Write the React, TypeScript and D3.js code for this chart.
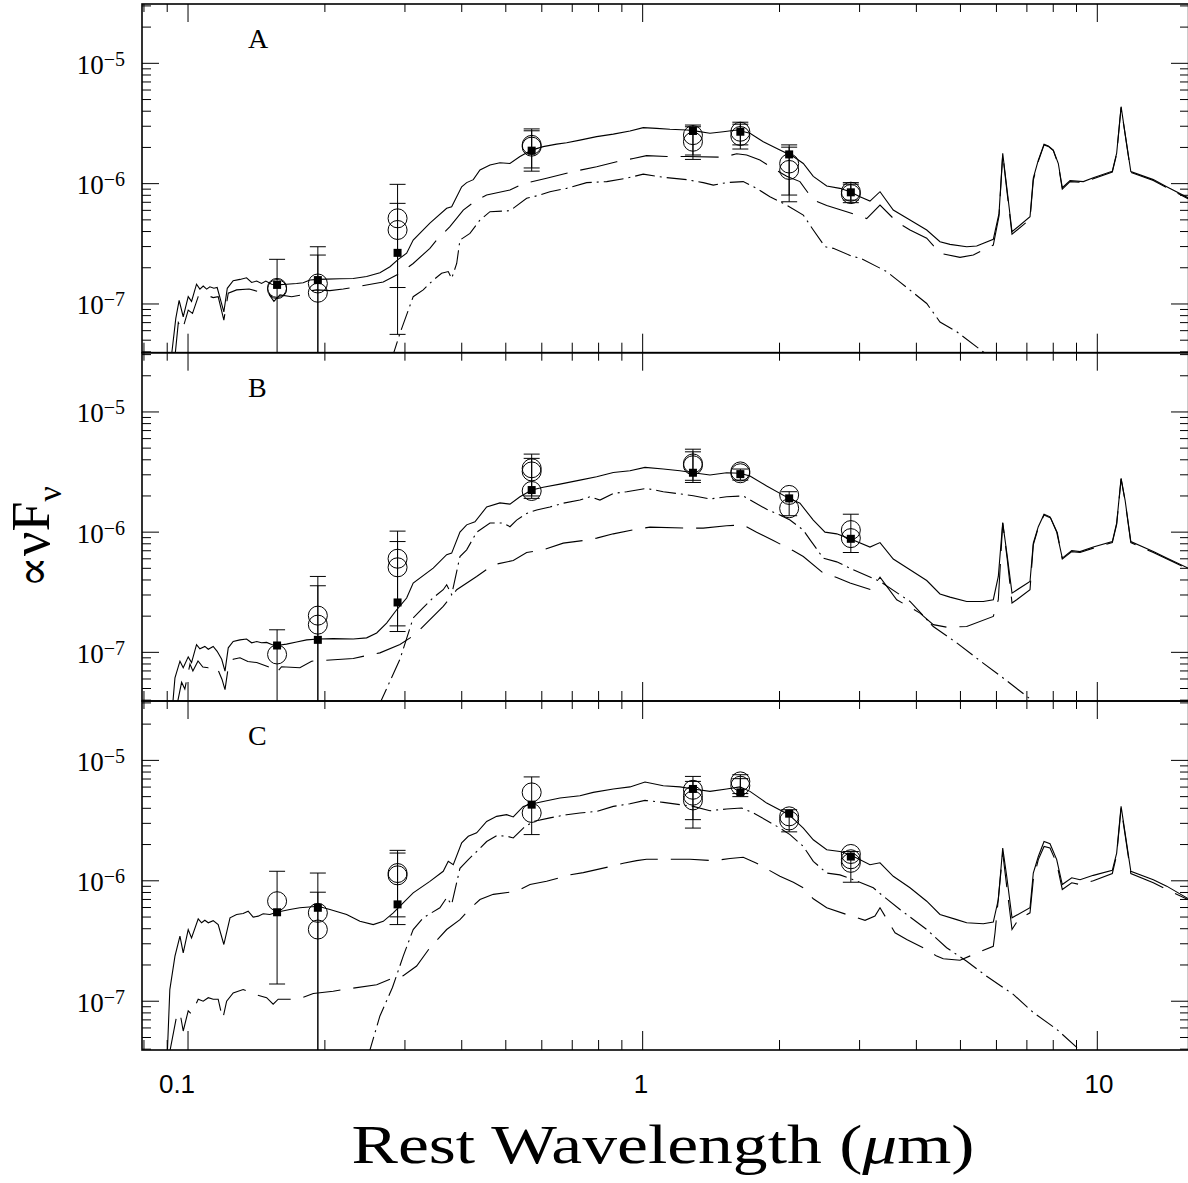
import React from "react";
import * as d3 from "d3";

type P = [number, number];

// ---------- data ----------
const bandLambda = [0.157, 0.193, 0.289, 0.57, 1.29, 1.64, 2.1, 2.87];
const panelLabels = ["A", "B", "C"];
const xMajorTicks = [0.1, 1, 10];
const xTickLabels = ["0.1", "1", "10"];
const xMinorTicks = [0.08, 0.09, 0.2, 0.3, 0.4, 0.5, 0.6, 0.7, 0.8, 0.9, 2, 3, 4, 5, 6, 7, 8, 9];
const yMajorTicks = [1e-7, 1e-6, 1e-5];
const yMajorExp = ["−7", "−6", "−5"];

// Panel A
const A_total: P[] = [[0.0918,3.5e-8],[0.0940,7.59e-8],[0.0956,1.07e-7],[0.0976,7.83e-8],[0.1001,1.15e-7],[0.1018,1.05e-7],[0.1044,1.46e-7],[0.1062,1.33e-7],[0.1080,1.41e-7],[0.1099,1.33e-7],[0.1117,1.39e-7],[0.1140,1.35e-7],[0.1159,1.37e-7],[0.1199,8.6e-8],[0.1220,1.35e-7],[0.1257,1.56e-7],[0.1301,1.60e-7],[0.1345,1.65e-7],[0.1380,1.51e-7],[0.1416,1.55e-7],[0.1451,1.48e-7],[0.1483,1.55e-7],[0.1527,1.46e-7],[0.1571,1.44e-7],[0.1647,1.46e-7],[0.1733,1.48e-7],[0.1792,1.50e-7],[0.1854,1.58e-7],[0.1934,1.60e-7],[0.2018,1.61e-7],[0.2158,1.62e-7],[0.2309,1.63e-7],[0.2471,1.69e-7],[0.2643,1.82e-7],[0.2781,2.04e-7],[0.2900,2.35e-7],[0.3026,2.64e-7],[0.3128,3.40e-7],[0.3404,4.70e-7],[0.3706,6.24e-7],[0.3801,6.43e-7],[0.3999,9.42e-7],[0.4101,1.02e-6],[0.4241,1.08e-6],[0.4387,1.30e-6],[0.4615,1.43e-6],[0.4854,1.49e-6],[0.5106,1.47e-6],[0.5372,1.68e-6],[0.5700,1.90e-6],[0.6042,2.03e-6],[0.6468,2.13e-6],[0.6804,2.19e-6],[0.7278,2.30e-6],[0.7921,2.46e-6],[0.8618,2.58e-6],[0.9377,2.74e-6],[1.003,2.92e-6],[1.073,2.88e-6],[1.148,2.83e-6],[1.250,2.79e-6],[1.292,2.76e-6],[1.406,2.62e-6],[1.504,2.70e-6],[1.610,2.79e-6],[1.722,2.62e-6],[1.842,2.23e-6],[2.004,1.90e-6],[2.145,1.68e-6],[2.256,1.47e-6],[2.373,1.15e-6],[2.540,9.56e-7],[2.716,9.14e-7],[2.858,8.57e-7],[3.006,7.79e-7],[3.162,7.17e-7],[3.327,8.57e-7],[3.558,6.03e-7],[3.873,4.99e-7],[4.215,4.12e-7],[4.508,3.29e-7],[4.742,3.13e-7],[5.161,2.99e-7],[5.429,3.03e-7],[5.905,3.45e-7],[6.079,5.66e-7],[6.194,1.79e-6],[6.320,9.42e-7],[6.492,3.98e-7],[7.112,5.31e-7],[7.231,1.11e-6],[7.417,1.57e-6],[7.636,2.13e-6],[7.802,2.06e-6],[8.002,1.90e-6],[8.208,1.47e-6],[8.375,9.25e-7],[8.710,1.06e-6],[9.316,1.04e-6],[9.800,1.12e-6],[10.79,1.27e-6],[11.03,1.79e-6],[11.28,4.36e-6],[11.51,2.62e-6],[11.85,1.26e-6],[13.28,1.08e-6],[14.21,9.42e-7],[15.83,7.64e-7]];
const A_young: P[] = [[0.0935,3.5e-8],[0.0952,7.0e-8],[0.0972,6.07e-8],[0.1001,8.9e-8],[0.1023,8.35e-8],[0.1053,1.15e-7],[0.1080,1.12e-7],[0.1108,1.17e-7],[0.1136,1.13e-7],[0.1165,1.15e-7],[0.1199,7.35e-8],[0.1226,1.23e-7],[0.1279,1.31e-7],[0.1363,1.33e-7],[0.1427,1.27e-7],[0.1463,1.29e-7],[0.1501,1.23e-7],[0.1545,1.05e-7],[0.1593,1.19e-7],[0.1690,1.15e-7],[0.1777,1.19e-7],[0.1824,1.27e-7],[0.1918,1.31e-7],[0.2052,1.29e-7],[0.2195,1.33e-7],[0.2688,1.52e-7],[0.2925,1.80e-7],[0.3128,2.17e-7],[0.3404,2.90e-7],[0.3523,3.40e-7],[0.3768,4.39e-7],[0.4031,6.03e-7],[0.4314,7.31e-7],[0.4538,8.04e-7],[0.5106,8.85e-7],[0.5463,1.00e-6],[0.6147,1.11e-6],[0.7036,1.26e-6],[0.7921,1.38e-6],[0.8766,1.52e-6],[0.9535,1.62e-6],[1.020,1.71e-6],[1.129,1.68e-6],[1.250,1.68e-6],[1.504,1.66e-6],[1.610,1.77e-6],[1.693,1.73e-6],[1.811,1.57e-6],[1.938,1.34e-6],[2.074,1.15e-6],[2.218,1.04e-6],[2.373,7.31e-7],[2.540,6.58e-7],[2.810,5.85e-7],[3.110,5.13e-7],[3.327,6.63e-7],[3.621,4.82e-7],[3.873,4.12e-7],[4.215,3.52e-7],[4.508,2.64e-7],[4.989,2.44e-7],[5.336,2.55e-7],[5.905,3.09e-7],[6.079,5.4e-7],[6.194,1.75e-6],[6.320,9.0e-7],[6.492,3.8e-7],[7.112,5.05e-7],[7.231,1.07e-6],[7.417,1.53e-6],[7.636,2.10e-6],[7.802,2.04e-6],[8.002,1.88e-6],[8.208,1.44e-6],[8.375,9.0e-7],[8.710,1.04e-6],[9.316,1.02e-6],[9.800,1.10e-6],[10.79,1.25e-6],[11.03,1.76e-6],[11.28,4.3e-6],[11.51,2.58e-6],[11.85,1.24e-6],[13.28,1.06e-6],[14.21,9.25e-7],[15.83,7.5e-7]];
const A_old: P[] = [[0.2800,3.4e-8],[0.2925,5.7e-8],[0.3128,1.15e-7],[0.3291,1.31e-7],[0.3462,1.58e-7],[0.3612,1.80e-7],[0.3736,1.86e-7],[0.3801,1.63e-7],[0.3899,2.17e-7],[0.3964,3.40e-7],[0.4170,3.86e-7],[0.4387,4.99e-7],[0.4615,5.85e-7],[0.5106,5.96e-7],[0.5557,7.55e-7],[0.5941,8.04e-7],[0.6252,8.57e-7],[0.6804,9.14e-7],[0.7531,1.02e-6],[0.8334,1.04e-6],[0.9222,1.11e-6],[1.003,1.20e-6],[1.110,1.13e-6],[1.250,1.08e-6],[1.359,1.02e-6],[1.430,9.73e-7],[1.530,1.02e-6],[1.664,1.04e-6],[1.781,9.14e-7],[1.905,7.79e-7],[2.074,6.63e-7],[2.256,5.48e-7],[2.373,4.12e-7],[2.518,2.99e-7],[2.626,2.90e-7],[2.906,2.47e-7],[3.006,2.41e-7],[3.441,1.86e-7],[3.681,1.52e-7],[4.215,1.01e-7],[4.508,7.08e-8],[4.906,5.88e-8],[5.614,4.0e-8],[5.808,3.63e-8]];
const A_square = [1.44e-7, 1.58e-7, 2.66e-7, 1.88e-6, 2.74e-6, 2.70e-6, 1.75e-6, 8.47e-7];
const A_circles = [[1.36e-7, 1.33e-7], [1.48e-7, 1.24e-7], [5.15e-7, 4.12e-7], [2.10e-6, 2.03e-6], [2.53e-6, 2.23e-6], [2.70e-6, 2.49e-6], [1.47e-6, 1.30e-6], [8.57e-7, 8.19e-7]];
const A_errors = [[[1e-8, 2.35e-7]], [[1e-8, 2.99e-7], [1e-8, 2.55e-7]], [[5.59e-8, 9.87e-7], [1.37e-7, 6.86e-7]], [[1.27e-6, 2.85e-6], [1.35e-6, 2.75e-6]], [[1.59e-6, 3.07e-6], [1.73e-6, 2.97e-6]], [[1.94e-6, 3.24e-6], [2.10e-6, 3.12e-6]], [[7.07e-7, 2.10e-6], [8.04e-7, 2.01e-6]], [[6.95e-7, 1.02e-6], [7.3e-7, 9.9e-7]]];

// Panel B
const B_total: P[] = [[0.0926,3.8e-8],[0.0936,6.14e-8],[0.0960,8.44e-8],[0.0976,7.44e-8],[0.1001,9.17e-8],[0.1018,8.22e-8],[0.1044,1.16e-7],[0.1062,1.07e-7],[0.1089,1.12e-7],[0.1108,1.06e-7],[0.1136,1.12e-7],[0.1159,1.02e-7],[0.1186,8.75e-8],[0.1206,6.97e-8],[0.1226,1.09e-7],[0.1257,1.23e-7],[0.1301,1.27e-7],[0.1345,1.29e-7],[0.1380,1.20e-7],[0.1416,1.23e-7],[0.1451,1.20e-7],[0.1489,1.21e-7],[0.1527,1.16e-7],[0.1566,1.14e-7],[0.1647,1.17e-7],[0.1733,1.22e-7],[0.1824,1.27e-7],[0.1934,1.29e-7],[0.2086,1.30e-7],[0.2309,1.29e-7],[0.2471,1.32e-7],[0.2600,1.45e-7],[0.2734,1.75e-7],[0.2877,2.26e-7],[0.3026,2.83e-7],[0.3128,3.77e-7],[0.3462,5.02e-7],[0.3706,6.49e-7],[0.3801,6.69e-7],[0.3964,1.00e-6],[0.4101,1.15e-6],[0.4277,1.22e-6],[0.4538,1.62e-6],[0.4854,1.75e-6],[0.5106,1.71e-6],[0.5372,1.97e-6],[0.5700,2.24e-6],[0.6042,2.36e-6],[0.6578,2.51e-6],[0.7278,2.71e-6],[0.7921,2.89e-6],[0.8618,3.14e-6],[0.9377,3.24e-6],[1.012,3.46e-6],[1.110,3.35e-6],[1.208,3.24e-6],[1.292,3.12e-6],[1.406,2.99e-6],[1.530,3.12e-6],[1.637,3.09e-6],[1.722,2.93e-6],[1.874,2.42e-6],[2.098,1.91e-6],[2.218,1.74e-6],[2.373,1.26e-6],[2.518,1.00e-6],[2.672,9.68e-7],[2.868,8.75e-7],[3.162,7.51e-7],[3.327,8.19e-7],[3.558,5.97e-7],[3.873,4.86e-7],[4.215,3.96e-7],[4.508,3.06e-7],[4.742,2.88e-7],[5.161,2.65e-7],[5.614,2.65e-7],[5.905,2.74e-7],[6.057,4.28e-7],[6.194,1.20e-6],[6.339,6.27e-7],[6.492,3.11e-7],[7.112,3.89e-7],[7.231,8.10e-7],[7.417,1.11e-6],[7.636,1.41e-6],[7.870,1.34e-6],[8.141,1.00e-6],[8.375,6.08e-7],[8.785,7.03e-7],[9.162,6.89e-7],[9.800,7.51e-7],[10.79,8.35e-7],[11.03,1.19e-6],[11.28,2.80e-6],[11.51,1.85e-6],[11.85,8.35e-7],[13.28,6.89e-7],[14.21,6.1e-7],[15.83,5.02e-7]];
const B_young: P[] = [[0.0945,3.6e-8],[0.0968,5.63e-8],[0.0984,4.95e-8],[0.1010,7.99e-8],[0.1025,6.99e-8],[0.1052,8.47e-8],[0.1078,7.55e-8],[0.1108,7.44e-8],[0.1135,7.77e-8],[0.1163,7.20e-8],[0.1188,5.95e-8],[0.1206,4.90e-8],[0.1226,7.48e-8],[0.1257,8.75e-8],[0.1301,9.0e-8],[0.1354,8.39e-8],[0.1416,8.22e-8],[0.1501,7.59e-8],[0.1566,6.76e-8],[0.1606,7.59e-8],[0.1762,7.44e-8],[0.1870,8.44e-8],[0.2309,8.88e-8],[0.2471,9.40e-8],[0.2643,9.9e-8],[0.2925,1.16e-7],[0.3155,1.40e-7],[0.3642,2.41e-7],[0.3899,3.32e-7],[0.4314,4.28e-7],[0.4693,5.35e-7],[0.5193,5.81e-7],[0.5557,6.77e-7],[0.6042,7.12e-7],[0.6688,8.10e-7],[0.7403,8.51e-7],[0.7921,8.92e-7],[0.8618,9.68e-7],[0.9700,1.06e-6],[1.038,1.10e-6],[1.271,1.08e-6],[1.359,1.08e-6],[1.530,1.13e-6],[1.664,1.15e-6],[1.781,1.00e-6],[1.938,8.51e-7],[2.145,6.99e-7],[2.256,6.27e-7],[2.496,4.56e-7],[2.672,4.20e-7],[2.858,3.77e-7],[3.178,3.32e-7],[3.327,4.22e-7],[3.621,2.74e-7],[4.074,2.12e-7],[4.357,1.70e-7],[4.663,1.62e-7],[5.161,1.64e-7],[5.905,1.99e-7],[6.057,2.74e-7],[6.194,1.19e-6],[6.339,5.90e-7],[6.492,2.57e-7],[6.648,2.74e-7],[7.112,3.32e-7],[7.231,7.84e-7],[7.417,1.09e-6],[7.636,1.39e-6],[7.897,1.31e-6],[8.166,9.90e-7],[8.375,5.97e-7],[8.785,6.89e-7],[9.162,6.77e-7],[9.800,7.36e-7],[10.79,8.19e-7],[11.03,1.16e-6],[11.28,2.77e-6],[11.51,1.82e-6],[11.85,8.19e-7],[13.28,6.77e-7],[15.83,4.93e-7]];
const B_old: P[] = [[0.2620,3.5e-8],[0.2925,8.75e-8],[0.3128,1.93e-7],[0.3291,2.35e-7],[0.3462,2.85e-7],[0.3642,3.32e-7],[0.3706,3.65e-7],[0.3801,3.02e-7],[0.3964,6.27e-7],[0.4101,7.12e-7],[0.4314,1.00e-6],[0.4615,1.19e-6],[0.4937,1.19e-6],[0.5106,1.11e-6],[0.5282,1.26e-6],[0.5557,1.43e-6],[0.5847,1.53e-6],[0.6252,1.62e-6],[0.6688,1.74e-6],[0.7278,1.85e-6],[0.7659,1.97e-6],[0.8055,1.85e-6],[0.8618,2.10e-6],[0.9222,2.17e-6],[1.020,2.31e-6],[1.110,2.17e-6],[1.208,2.08e-6],[1.292,2.01e-6],[1.406,1.89e-6],[1.530,1.97e-6],[1.664,2.00e-6],[1.751,1.79e-6],[1.874,1.55e-6],[2.004,1.39e-6],[2.109,1.26e-6],[2.256,1.04e-6],[2.333,8.67e-7],[2.496,6.08e-7],[2.672,5.66e-7],[2.906,4.86e-7],[3.327,3.89e-7],[3.873,2.65e-7],[4.357,1.64e-7],[4.906,1.20e-7],[5.521,8.51e-8],[6.320,5.81e-8],[7.112,4.10e-8],[7.33,3.6e-8]];
const B_square = [1.14e-7, 1.27e-7, 2.60e-7, 2.24e-6, 3.12e-6, 3.04e-6, 1.91e-6, 8.8e-7];
const B_circles = [[9.6e-8], [2.02e-7, 1.70e-7], [6.01e-7, 5.1e-7], [3.4e-6, 3.2e-6, 2.2e-6], [3.73e-6, 3.6e-6], [3.2e-6, 3.09e-6], [2.04e-6, 1.58e-6], [1.04e-6, 8.92e-7]];
const B_errors = [[[1e-8, 1.54e-7]], [[1e-8, 4.28e-7], [1e-8, 3.58e-7]], [[1.49e-7, 1.02e-6], [1.66e-7, 8.35e-7]], [[1.91e-6, 4.46e-6], [2.0e-6, 4.11e-6]], [[2.59e-6, 4.90e-6], [2.7e-6, 4.66e-6]], [[2.71e-6, 3.35e-6]], [[1.37e-6, 2.17e-6]], [[6.77e-7, 1.41e-6]]];

// Panel C
const C_total: P[] = [[0.0900,3.5e-8],[0.0912,1.25e-7],[0.0936,2.37e-7],[0.0960,3.47e-7],[0.0976,2.52e-7],[0.1001,3.94e-7],[0.1018,3.36e-7],[0.1053,4.83e-7],[0.1071,4.48e-7],[0.1089,4.70e-7],[0.1108,4.48e-7],[0.1136,4.67e-7],[0.1165,4.33e-7],[0.1199,2.96e-7],[0.1237,4.93e-7],[0.1279,5.25e-7],[0.1322,5.35e-7],[0.1356,5.59e-7],[0.1391,4.99e-7],[0.1427,5.09e-7],[0.1463,5.32e-7],[0.1514,5.25e-7],[0.1566,5.48e-7],[0.1675,5.78e-7],[0.1762,5.97e-7],[0.1934,6.15e-7],[0.2052,5.78e-7],[0.2233,5.25e-7],[0.2388,4.61e-7],[0.2555,4.33e-7],[0.2688,4.61e-7],[0.2828,5.42e-7],[0.2925,6.15e-7],[0.3128,7.95e-7],[0.3404,9.9e-7],[0.3642,1.20e-6],[0.3736,1.45e-6],[0.3832,1.36e-6],[0.3999,2.07e-6],[0.4135,2.34e-6],[0.4314,2.50e-6],[0.4538,3.11e-6],[0.4773,3.43e-6],[0.5021,3.54e-6],[0.5193,3.39e-6],[0.5463,4.15e-6],[0.5700,4.34e-6],[0.6042,4.56e-6],[0.6578,4.87e-6],[0.7278,5.09e-6],[0.7785,5.42e-6],[0.8618,5.79e-6],[0.9377,6.02e-6],[1.012,6.61e-6],[1.110,6.16e-6],[1.208,6.02e-6],[1.292,5.79e-6],[1.406,5.53e-6],[1.530,5.79e-6],[1.637,6.02e-6],[1.722,5.53e-6],[1.874,4.42e-6],[2.098,3.54e-6],[2.256,2.74e-6],[2.373,2.19e-6],[2.540,1.81e-6],[2.716,1.75e-6],[2.868,1.64e-6],[3.162,1.36e-6],[3.327,1.41e-6],[3.558,1.09e-6],[3.873,8.75e-7],[4.215,6.77e-7],[4.508,5.25e-7],[4.906,4.76e-7],[5.161,4.48e-7],[5.614,4.40e-7],[5.905,4.54e-7],[6.057,6.99e-7],[6.194,1.87e-6],[6.320,1.09e-6],[6.492,4.93e-7],[7.112,5.97e-7],[7.231,1.16e-6],[7.417,1.59e-6],[7.636,2.12e-6],[7.870,2.03e-6],[8.141,1.50e-6],[8.375,9.31e-7],[8.785,1.06e-6],[9.162,1.02e-6],[9.800,1.11e-6],[10.79,1.22e-6],[11.03,1.70e-6],[11.28,4.15e-6],[11.51,2.50e-6],[11.85,1.20e-6],[13.28,1.02e-6],[14.21,9.03e-7],[15.83,7.12e-7]];
const C_young: P[] = [[0.0908,3.5e-8],[0.0944,7.55e-8],[0.0960,8.06e-8],[0.0976,5.66e-8],[0.1001,8.33e-8],[0.1018,7.80e-8],[0.1053,1.04e-7],[0.1080,1.00e-7],[0.1108,1.07e-7],[0.1136,1.04e-7],[0.1165,1.04e-7],[0.1192,7.09e-8],[0.1216,1.00e-7],[0.1257,1.17e-7],[0.1322,1.25e-7],[0.1404,1.14e-7],[0.1489,1.07e-7],[0.1539,9.44e-8],[0.1579,1.04e-7],[0.1747,1.04e-7],[0.1886,1.16e-7],[0.2086,1.21e-7],[0.2195,1.25e-7],[0.2600,1.37e-7],[0.2828,1.56e-7],[0.2974,1.63e-7],[0.3183,1.96e-7],[0.3404,2.78e-7],[0.3706,3.94e-7],[0.3964,4.76e-7],[0.4170,5.85e-7],[0.4387,6.99e-7],[0.4693,7.72e-7],[0.5282,8.19e-7],[0.5652,9.31e-7],[0.6147,9.92e-7],[0.6920,1.12e-6],[0.7403,1.17e-6],[0.8618,1.33e-6],[0.9065,1.40e-6],[0.9700,1.47e-6],[1.020,1.51e-6],[1.188,1.51e-6],[1.271,1.51e-6],[1.430,1.47e-6],[1.556,1.53e-6],[1.664,1.57e-6],[1.781,1.40e-6],[2.004,1.09e-6],[2.145,9.73e-7],[2.256,8.75e-7],[2.373,7.09e-7],[2.540,5.97e-7],[2.810,5.25e-7],[3.084,4.70e-7],[3.243,5.09e-7],[3.327,5.97e-7],[3.590,3.70e-7],[3.809,3.26e-7],[4.143,2.78e-7],[4.434,2.37e-7],[4.584,2.25e-7],[4.989,2.19e-7],[5.336,2.44e-7],[5.905,2.86e-7],[5.957,3.70e-7],[6.194,1.70e-6],[6.320,9.03e-7],[6.492,3.94e-7],[6.702,4.76e-7],[7.112,5.42e-7],[7.231,1.02e-6],[7.417,1.50e-6],[7.636,1.93e-6],[7.870,1.87e-6],[8.141,1.40e-6],[8.375,8.47e-7],[8.785,9.62e-7],[9.162,9.31e-7],[9.800,1.0e-6],[10.79,1.15e-6],[11.03,1.64e-6],[11.28,4.02e-6],[11.51,2.42e-6],[11.85,1.15e-6],[13.28,9.62e-7],[14.21,8.47e-7],[15.83,6.99e-7]];
const C_old: P[] = [[0.2490,3.5e-8],[0.2643,7.55e-8],[0.2816,1.30e-7],[0.2974,2.37e-7],[0.3128,3.94e-7],[0.3291,4.93e-7],[0.3581,5.97e-7],[0.3706,7.22e-7],[0.3801,6.37e-7],[0.3964,1.27e-6],[0.4135,1.50e-6],[0.4314,1.75e-6],[0.4538,2.12e-6],[0.4773,2.37e-6],[0.5021,2.35e-6],[0.5193,2.27e-6],[0.5463,2.74e-6],[0.5748,3.11e-6],[0.6252,3.33e-6],[0.6804,3.54e-6],[0.7278,3.66e-6],[0.7921,3.77e-6],[0.8618,4.15e-6],[0.9377,4.36e-6],[1.012,4.65e-6],[1.110,4.48e-6],[1.208,4.29e-6],[1.292,4.15e-6],[1.406,3.82e-6],[1.530,3.95e-6],[1.651,4.02e-6],[1.751,3.66e-6],[1.874,3.17e-6],[2.004,2.74e-6],[2.109,2.42e-6],[2.256,1.93e-6],[2.373,1.45e-6],[2.540,1.16e-6],[2.716,1.12e-6],[2.906,1.02e-6],[3.216,8.75e-7],[3.327,7.84e-7],[3.681,5.78e-7],[4.215,3.94e-7],[4.663,2.78e-7],[5.161,2.15e-7],[5.711,1.61e-7],[6.535,1.14e-7],[7.231,8.06e-8],[8.141,5.85e-8],[9.010,4.14e-8],[9.25,3.7e-8]];
const C_square = [5.48e-7, 5.97e-7, 6.37e-7, 4.29e-6, 5.79e-6, 5.42e-6, 3.61e-6, 1.59e-6];
const C_circles = [[6.77e-7], [5.42e-7, 3.94e-7], [1.16e-6, 1.11e-6], [5.42e-6, 3.66e-6], [5.7e-6, 5.09e-6, 4.65e-6], [6.69e-6, 6.16e-6], [3.43e-6, 3.17e-6], [1.67e-6, 1.51e-6, 1.41e-6]];
const C_errors = [[[1.39e-7, 1.20e-6]], [[1e-8, 1.16e-6], [1e-8, 8.04e-7]], [[4.33e-7, 1.79e-6], [5.02e-7, 1.70e-6]], [[2.42e-6, 7.29e-6]], [[2.74e-6, 7.36e-6], [3.22e-6, 6.69e-6]], [[5.0e-6, 7.6e-6], [5.3e-6, 7.05e-6]], [[2.55e-6, 3.89e-6]], [[9.73e-7, 1.75e-6]]];

const panels = [
  { total: A_total, young: A_young, old: A_old, squares: A_square, circles: A_circles, errors: A_errors },
  { total: B_total, young: B_young, old: B_old, squares: B_square, circles: B_circles, errors: B_errors },
  { total: C_total, young: C_young, old: C_old, squares: C_square, circles: C_circles, errors: C_errors },
];

// ---------- layout ----------
const W = 1188, H = 1183;
const XL = 142, XR = 1188.6;
const panelEdges = [4, 352.7, 701, 1050];
const yDomain: [number, number] = [3.936e-8, 3.112e-5];
const serif = "'Liberation Serif', 'DejaVu Serif', serif";
const sans = "'Liberation Sans', Arial, sans-serif";

const x = d3.scaleLog().domain([0.07921, 15.83]).range([XL, 1188]);

function Panel({ i }: { i: number }) {
  const top = panelEdges[i];
  const bottom = panelEdges[i + 1];
  const p = panels[i];
  const y = d3.scaleLog().domain(yDomain).range([bottom, top]);
  const line = d3.line<P>().x((d) => x(d[0])).y((d) => y(d[1]));
  const clipId = `clip${i}`;
  const yMinor: number[] = [];
  for (let e = -8; e <= -5; e++) {
    for (let k = 2; k <= 9; k++) {
      const v = k * Math.pow(10, e);
      if (v > yDomain[0] && v < yDomain[1]) yMinor.push(v);
    }
  }
  const inside = (v: number) => v >= yDomain[0] && v <= yDomain[1];
  return (
    <g>
      <defs>
        <clipPath id={clipId}>
          <rect x={XL} y={top} width={XR - XL} height={bottom - top} />
        </clipPath>
      </defs>
      <g stroke="#000" strokeWidth={1}>
        {xMinorTicks.map((t) => (
          <g key={"xm" + t}>
            <line x1={x(t)} x2={x(t)} y1={top} y2={top + 8} />
            <line x1={x(t)} x2={x(t)} y1={bottom} y2={bottom - 10} />
          </g>
        ))}
        {xMajorTicks.map((t) => (
          <g key={"xM" + t}>
            <line x1={x(t)} x2={x(t)} y1={top} y2={top + 18} />
            <line x1={x(t)} x2={x(t)} y1={bottom} y2={bottom - 19} />
          </g>
        ))}
        {yMinor.map((t) => (
          <g key={"ym" + t}>
            <line x1={XL} x2={XL + 9} y1={y(t)} y2={y(t)} />
            <line x1={1188} x2={1180} y1={y(t)} y2={y(t)} />
          </g>
        ))}
        {yMajorTicks.map((t) => (
          <g key={"yM" + t}>
            <line x1={XL} x2={XL + 17} y1={y(t)} y2={y(t)} />
            <line x1={1188} x2={1171} y1={y(t)} y2={y(t)} />
          </g>
        ))}
      </g>
      {yMajorTicks.map((t, k) => (
        <text key={"yl" + t} x={125} y={y(t) + 10.5} textAnchor="end" fontFamily={serif} fontSize={27}>
          10<tspan dy={-8} fontSize={20}>{yMajorExp[k]}</tspan>
        </text>
      ))}
      <text x={248} y={top + 44} fontFamily={serif} fontSize={28}>{panelLabels[i]}</text>
      <g clipPath={`url(#${clipId})`} fill="none" stroke="#000" strokeWidth={1.1}>
        <path d={line(p.old) || ""} strokeDasharray="20 5 2 5" />
        <path d={line(p.young) || ""} strokeDasharray="38 13" />
        <path d={line(p.total) || ""} />
      </g>
      <g clipPath={`url(#${clipId})`} stroke="#000" strokeWidth={1}>
        {bandLambda.map((l, b) => (
          <g key={"b" + b}>
            {p.errors[b].map((e, k) => (
              <g key={"e" + k}>
                <line x1={x(l)} x2={x(l)} y1={y(Math.max(e[0], 1e-9))} y2={y(e[1])} />
                {inside(e[1]) && <line x1={x(l) - 8} x2={x(l) + 8} y1={y(e[1])} y2={y(e[1])} />}
                {inside(e[0]) && <line x1={x(l) - 8} x2={x(l) + 8} y1={y(e[0])} y2={y(e[0])} />}
              </g>
            ))}
            {p.circles[b].map((c, k) => (
              <circle key={"c" + k} cx={x(l)} cy={y(c)} r={9.5} fill="none" />
            ))}
            <rect x={x(l) - 4} y={y(p.squares[b]) - 4} width={8} height={8} fill="#000" stroke="none" />
          </g>
        ))}
      </g>
      <rect x={XL} y={top} width={XR - XL} height={bottom - top} fill="none" stroke="#000" strokeWidth={1.6} />
    </g>
  );
}

export default function App() {
  return (
    <svg width={W} height={H} style={{ position: "absolute", left: 0, top: 0, background: "#fff" }}>
      <rect x={0} y={0} width={W} height={H} fill="#fff" />
      {[0, 1, 2].map((i) => (
        <Panel key={i} i={i} />
      ))}
      {xMajorTicks.map((t, k) => (
        <text key={"xl" + t} x={[177, 641, 1099][k]} y={1093} textAnchor="middle" fontFamily={sans} fontSize={26}>
          {xTickLabels[k]}
        </text>
      ))}
      <text x={663} y={1163} textAnchor="middle" fontFamily={serif} fontSize={55} textLength={623} lengthAdjust="spacingAndGlyphs">
        Rest Wavelength (<tspan fontStyle="italic">μ</tspan>m)
      </text>
      <text transform="translate(49,537) rotate(-90)" textAnchor="middle" fontFamily={serif} fontSize={54}>
        <tspan fontFamily="'DejaVu Serif', serif" fontSize={47}>∝</tspan>νF<tspan dy={12} fontSize={34}>ν</tspan>
      </text>
    </svg>
  );
}
